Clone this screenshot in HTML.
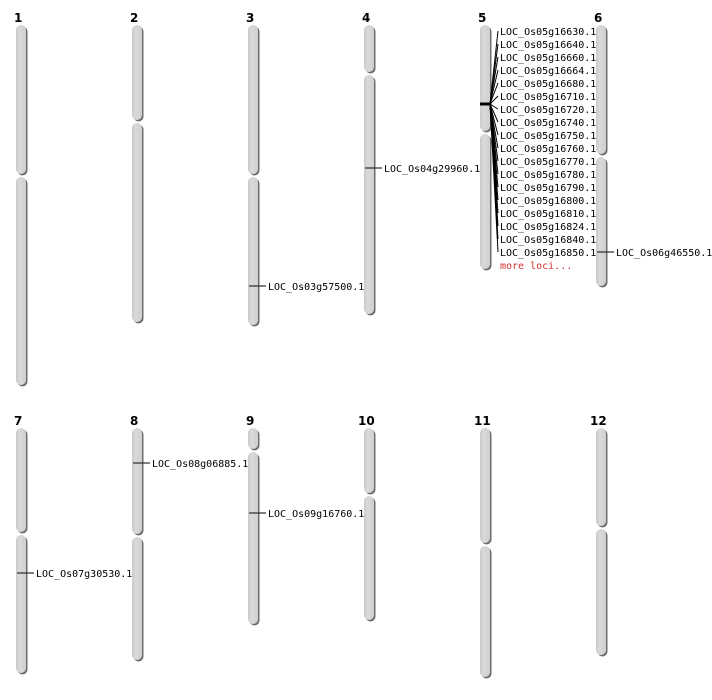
<!DOCTYPE html>
<html><head><meta charset="utf-8"><style>
html,body{margin:0;padding:0;background:#fff;}
svg{display:block;}
.n{font-family:"DejaVu Sans","Liberation Sans",sans-serif;font-weight:bold;font-size:12px;fill:#000;}
.t{font-family:"DejaVu Sans Mono","Liberation Mono",monospace;font-size:10px;fill:#000;}
.s{fill:#6e6e6e;}
.c{fill:url(#g);}
.m{stroke:#333;stroke-width:1.3;}
</style></head><body>
<svg width="712" height="700" xmlns="http://www.w3.org/2000/svg">
<defs><linearGradient id="g" x1="0" x2="1" y1="0" y2="0"><stop offset="0" stop-color="#c9c9c9"/><stop offset="0.35" stop-color="#dadada"/><stop offset="1" stop-color="#cfcfcf"/></linearGradient></defs>
<g class="n">
<text x="14" y="22">1</text><text x="130" y="22">2</text><text x="246" y="22">3</text><text x="362" y="22">4</text><text x="478" y="22">5</text><text x="594" y="22">6</text>
<text x="14" y="425">7</text><text x="130" y="425">8</text><text x="246" y="425">9</text><text x="358" y="425">10</text><text x="474" y="425">11</text><text x="590" y="425">12</text>
</g>
<!-- chromosomes: shadow then fill -->
<g>
<!-- 1 -->
<rect class="s" x="17.5" y="26.5" width="10" height="149" rx="5"/><rect class="c" x="16" y="25" width="10" height="149" rx="5"/>
<rect class="s" x="17.5" y="178.5" width="10" height="208" rx="5"/><rect class="c" x="16" y="177" width="10" height="208" rx="5"/>
<!-- 2 -->
<rect class="s" x="133.5" y="26.5" width="10" height="95" rx="5"/><rect class="c" x="132" y="25" width="10" height="95" rx="5"/>
<rect class="s" x="133.5" y="124.5" width="10" height="199" rx="5"/><rect class="c" x="132" y="123" width="10" height="199" rx="5"/>
<!-- 3 -->
<rect class="s" x="249.5" y="26.5" width="10" height="149" rx="5"/><rect class="c" x="248" y="25" width="10" height="149" rx="5"/>
<rect class="s" x="249.5" y="178.5" width="10" height="148" rx="5"/><rect class="c" x="248" y="177" width="10" height="148" rx="5"/>
<!-- 4 -->
<rect class="s" x="365.5" y="26.5" width="10" height="47" rx="5"/><rect class="c" x="364" y="25" width="10" height="47" rx="5"/>
<rect class="s" x="365.5" y="76.5" width="10" height="239" rx="5"/><rect class="c" x="364" y="75" width="10" height="239" rx="5"/>
<!-- 5 -->
<rect class="s" x="481.5" y="26.5" width="10" height="106" rx="5"/><rect class="c" x="480" y="25" width="10" height="106" rx="5"/>
<rect class="s" x="481.5" y="135.5" width="10" height="135" rx="5"/><rect class="c" x="480" y="134" width="10" height="135" rx="5"/>
<!-- 6 -->
<rect class="s" x="597.5" y="26.5" width="10" height="129" rx="5"/><rect class="c" x="596" y="25" width="10" height="129" rx="5"/>
<rect class="s" x="597.5" y="158.5" width="10" height="129" rx="5"/><rect class="c" x="596" y="157" width="10" height="129" rx="5"/>
<!-- 7 -->
<rect class="s" x="17.5" y="429.5" width="10" height="104" rx="5"/><rect class="c" x="16" y="428" width="10" height="104" rx="5"/>
<rect class="s" x="17.5" y="536.5" width="10" height="138" rx="5"/><rect class="c" x="16" y="535" width="10" height="138" rx="5"/>
<!-- 8 -->
<rect class="s" x="133.5" y="429.5" width="10" height="106" rx="5"/><rect class="c" x="132" y="428" width="10" height="106" rx="5"/>
<rect class="s" x="133.5" y="538.5" width="10" height="123" rx="5"/><rect class="c" x="132" y="537" width="10" height="123" rx="5"/>
<!-- 9 -->
<rect class="s" x="249.5" y="429.5" width="10" height="21" rx="5"/><rect class="c" x="248" y="428" width="10" height="21" rx="5"/>
<rect class="s" x="249.5" y="453.5" width="10" height="172" rx="5"/><rect class="c" x="248" y="452" width="10" height="172" rx="5"/>
<!-- 10 -->
<rect class="s" x="365.5" y="429.5" width="10" height="65" rx="5"/><rect class="c" x="364" y="428" width="10" height="65" rx="5"/>
<rect class="s" x="365.5" y="497.5" width="10" height="124" rx="5"/><rect class="c" x="364" y="496" width="10" height="124" rx="5"/>
<!-- 11 -->
<rect class="s" x="481.5" y="429.5" width="10" height="115" rx="5"/><rect class="c" x="480" y="428" width="10" height="115" rx="5"/>
<rect class="s" x="481.5" y="547.5" width="10" height="131" rx="5"/><rect class="c" x="480" y="546" width="10" height="131" rx="5"/>
<!-- 12 -->
<rect class="s" x="597.5" y="429.5" width="10" height="98" rx="5"/><rect class="c" x="596" y="428" width="10" height="98" rx="5"/>
<rect class="s" x="597.5" y="530.5" width="10" height="126" rx="5"/><rect class="c" x="596" y="529" width="10" height="126" rx="5"/>
</g>
<!-- markers -->
<g class="m">
<line x1="249" y1="286" x2="266" y2="286"/>
<line x1="365" y1="168" x2="382" y2="168"/>
<line x1="597" y1="252" x2="614" y2="252"/>
<line x1="133" y1="463" x2="150" y2="463"/>
<line x1="249" y1="513" x2="266" y2="513"/>
<line x1="17" y1="573" x2="34" y2="573"/>
</g>
<g class="t">
<text x="268" y="290">LOC_Os03g57500.1</text>
<text x="384" y="172">LOC_Os04g29960.1</text>
<text x="616" y="256">LOC_Os06g46550.1</text>
<text x="152" y="467">LOC_Os08g06885.1</text>
<text x="268" y="517">LOC_Os09g16760.1</text>
<text x="36" y="577">LOC_Os07g30530.1</text>
</g>
<!-- chr5 cluster -->
<line x1="480" y1="104" x2="491" y2="104" stroke="#000" stroke-width="3"/>
<g stroke="#000" stroke-width="1">
<line x1="490" y1="104" x2="498" y2="31"/><line x1="490" y1="104" x2="498" y2="44"/><line x1="490" y1="104" x2="498" y2="57"/>
<line x1="490" y1="104" x2="498" y2="70"/><line x1="490" y1="104" x2="498" y2="83"/><line x1="490" y1="104" x2="498" y2="96"/>
<line x1="490" y1="104" x2="498" y2="109"/><line x1="490" y1="104" x2="498" y2="122"/><line x1="490" y1="104" x2="498" y2="135"/>
<line x1="490" y1="104" x2="498" y2="148"/><line x1="490" y1="104" x2="498" y2="161"/><line x1="490" y1="104" x2="498" y2="174"/>
<line x1="490" y1="104" x2="498" y2="187"/><line x1="490" y1="104" x2="498" y2="200"/><line x1="490" y1="104" x2="498" y2="213"/>
<line x1="490" y1="104" x2="498" y2="226"/><line x1="490" y1="104" x2="498" y2="239"/><line x1="490" y1="104" x2="498" y2="252"/>
</g>
<g class="t">
<text x="500" y="35">LOC_Os05g16630.1</text>
<text x="500" y="48">LOC_Os05g16640.1</text>
<text x="500" y="61">LOC_Os05g16660.1</text>
<text x="500" y="74">LOC_Os05g16664.1</text>
<text x="500" y="87">LOC_Os05g16680.1</text>
<text x="500" y="100">LOC_Os05g16710.1</text>
<text x="500" y="113">LOC_Os05g16720.1</text>
<text x="500" y="126">LOC_Os05g16740.1</text>
<text x="500" y="139">LOC_Os05g16750.1</text>
<text x="500" y="152">LOC_Os05g16760.1</text>
<text x="500" y="165">LOC_Os05g16770.1</text>
<text x="500" y="178">LOC_Os05g16780.1</text>
<text x="500" y="191">LOC_Os05g16790.1</text>
<text x="500" y="204">LOC_Os05g16800.1</text>
<text x="500" y="217">LOC_Os05g16810.1</text>
<text x="500" y="230">LOC_Os05g16824.1</text>
<text x="500" y="243">LOC_Os05g16840.1</text>
<text x="500" y="256">LOC_Os05g16850.1</text>
<text x="500" y="269" style="fill:#d03030">more loci...</text>
</g>
</svg>
</body></html>
